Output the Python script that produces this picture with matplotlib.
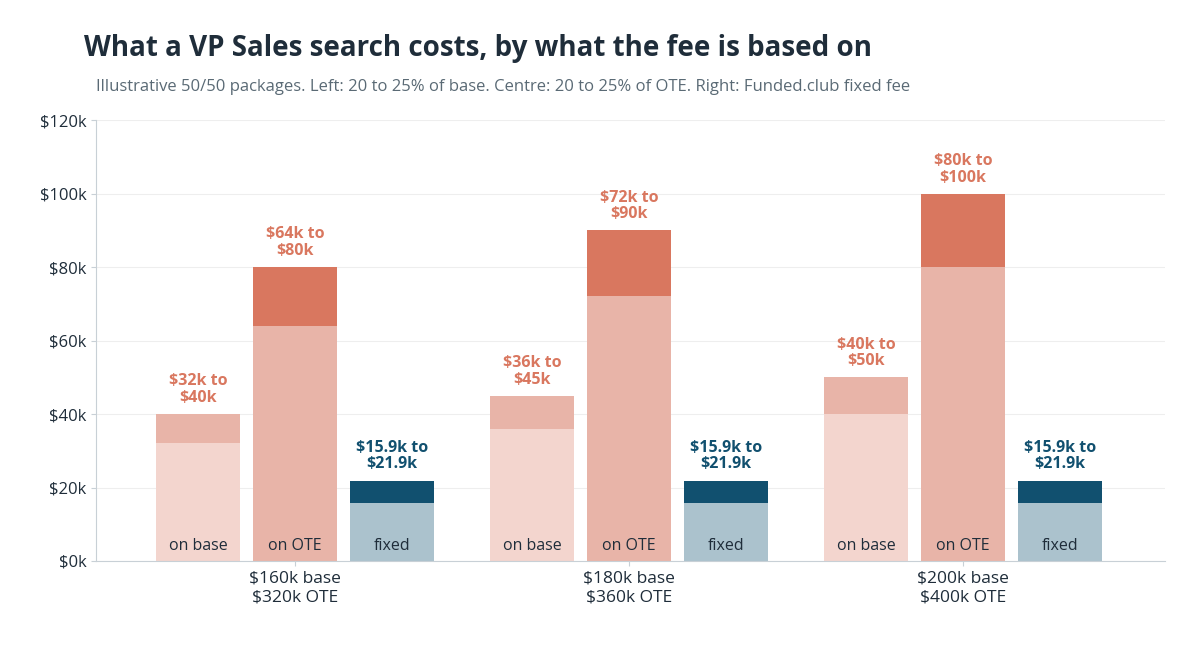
import matplotlib
matplotlib.use("Agg")
import matplotlib.pyplot as plt

plt.rcParams['font.family'] = ['Open Sans', 'DejaVu Sans']

groups = ["$160k base\n$320k OTE", "$180k base\n$360k OTE", "$200k base\n$400k OTE"]
bar_names = ["on base", "on OTE", "fixed"]
low = [[32, 64, 15.9], [36, 72, 15.9], [40, 80, 15.9]]
high = [[40, 80, 21.9], [45, 90, 21.9], [50, 100, 21.9]]
labels = [["$32k to\n$40k", "$64k to\n$80k", "$15.9k to\n$21.9k"],
          ["$36k to\n$45k", "$72k to\n$90k", "$15.9k to\n$21.9k"],
          ["$40k to\n$50k", "$80k to\n$100k", "$15.9k to\n$21.9k"]]
yticks = [0, 20, 40, 60, 80, 100, 120]

low_col = ["#f3d5ce", "#e8b4a8", "#abc2cd"]
high_col = ["#e8b4a8", "#d9775f", "#11506f"]
lab_col = ["#d9775f", "#d9775f", "#11506f"]

fig = plt.figure(figsize=(12, 6.6), dpi=100)
ax = fig.add_axes([0.08, 0.15, 0.891, 0.668])
offs = [-0.29, 0, 0.29]
w = 0.25
for g in range(3):
    for b in range(3):
        x = g + offs[b]
        ax.bar(x, low[g][b], w, color=low_col[b], zorder=2)
        ax.bar(x, high[g][b] - low[g][b], w, bottom=low[g][b], color=high_col[b], zorder=2)
        ax.text(x, high[g][b] + 2.2, labels[g][b], ha='center', va='bottom', fontsize=11.5,
                fontweight='bold', color=lab_col[b], linespacing=1.05)
        ax.text(x, 2.0, bar_names[b], ha='center', va='bottom', fontsize=11.5, color="#1f2d3a")

ax.set_xlim(-0.596, 2.605)
ax.set_ylim(0, 120)
ax.set_yticks(yticks)
ax.set_yticklabels([f"${v}k" for v in yticks], fontsize=12, color="#1f2d3a")
ax.set_xticks(range(3))
ax.set_xticklabels(groups, fontsize=12.5, color="#1f2d3a")
ax.grid(axis='y', color="#eeeeee", zorder=0)
for s in ['top', 'right']:
    ax.spines[s].set_visible(False)
for s in ['left', 'bottom']:
    ax.spines[s].set_color("#c8d0d6")
ax.tick_params(axis='both', colors="#c8d0d6", labelcolor="#1f2d3a")

fig.text(0.07, 0.927, "What a VP Sales search costs, by what the fee is based on", fontsize=20,
         fontweight='bold', color="#1f2d3a", va='center')
fig.text(0.08, 0.868, "Illustrative 50/50 packages. Left: 20 to 25% of base. Centre: 20 to 25% of OTE. Right: Funded.club fixed fee",
         fontsize=12, color="#5a6a75", va='center')
fig.savefig("out.png")
